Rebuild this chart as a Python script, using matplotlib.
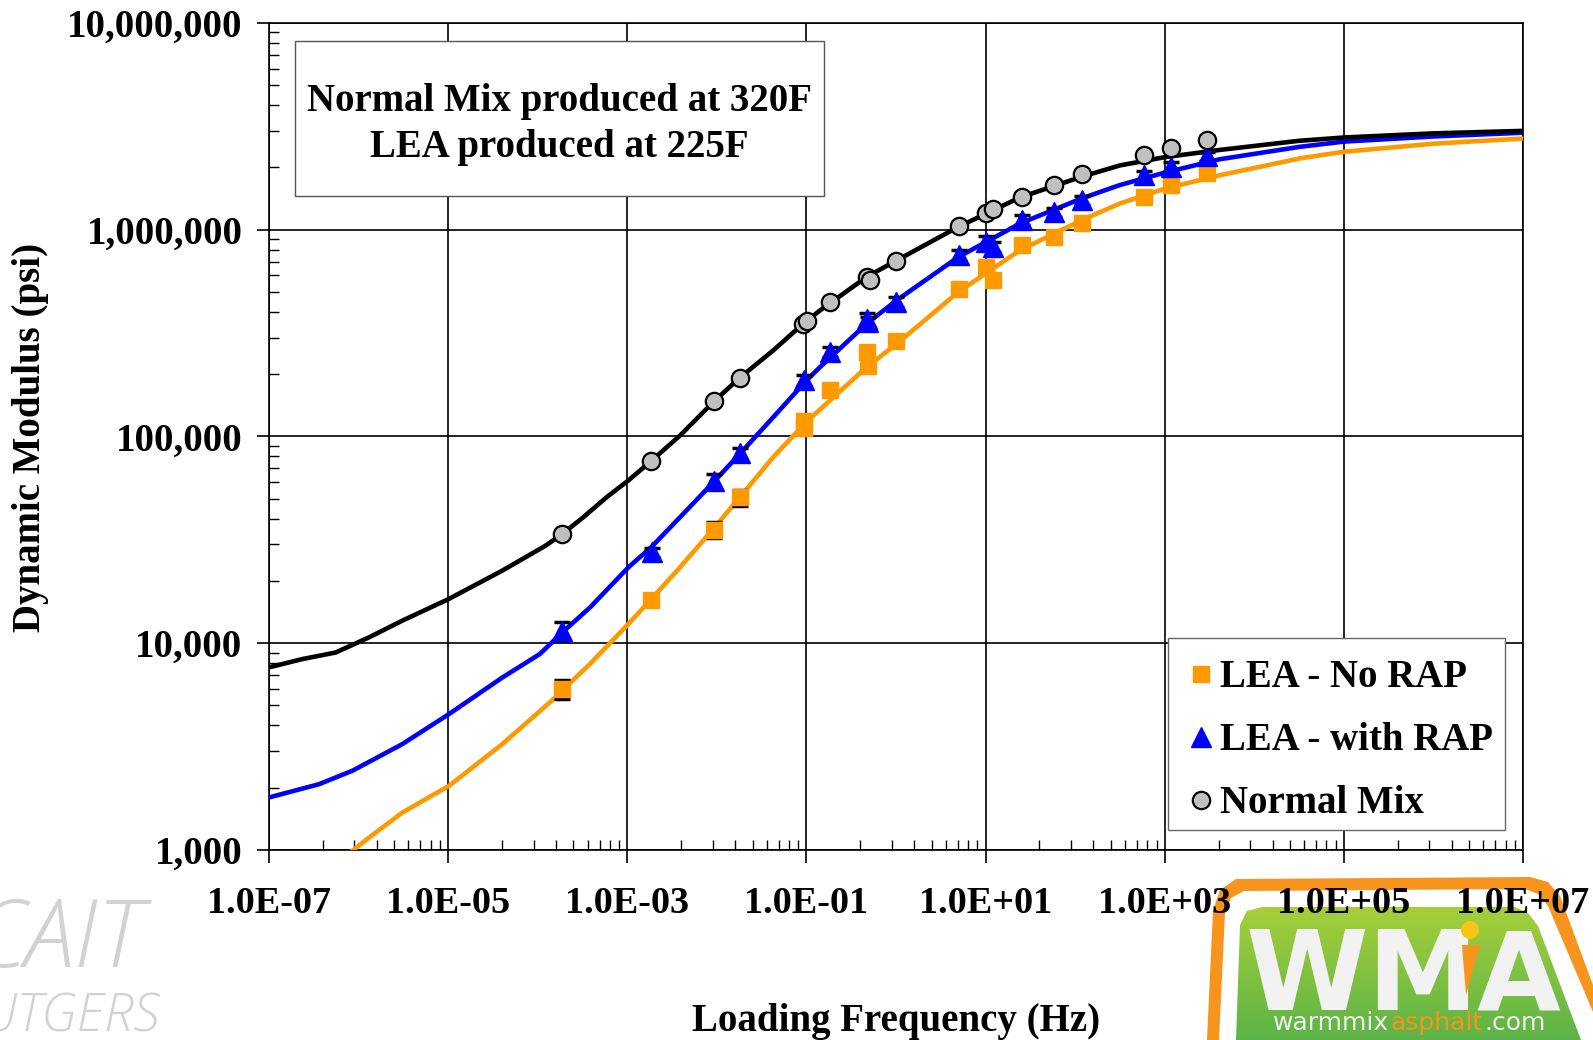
import matplotlib
matplotlib.use("Agg")
import numpy as np
import matplotlib.pyplot as plt
from matplotlib.patches import Rectangle, Polygon, Ellipse
from matplotlib.colors import LinearSegmentedColormap
from matplotlib.ticker import FixedLocator, FuncFormatter, LogLocator, NullFormatter

# ---------------- measured points (Hz, psi) ----------------
freq_norap = [1.85e-4, 1.83e-3, 9.2e-3, 0.0183, 0.095, 0.095, 0.183, 0.47, 0.49, 1.01,
              5.09, 10.1, 12.0, 25.3, 58.5, 118, 592, 1175, 2946]
mod_norap = [6000, 16100, 35400, 50800, 119000, 110000, 168000, 256000, 220000, 289000,
             518000, 659000, 569000, 840000, 920000, 1077000, 1440000, 1640000, 1880000]
err_norap = [650, 900, 3000, 4500, 6000, 6000, 8000, 15000, 12000, 14000,
             25000, 35000, 30000, 40000, 45000, 50000, 70000, 80000, 90000]

freq_rap = [1.85e-4, 1.87e-3, 9.2e-3, 0.0181, 0.095, 0.183, 0.47, 0.49, 1.01,
            5.09, 10.1, 12.0, 25.3, 58.5, 118, 592, 1175, 2946]
mod_rap = [11500, 27500, 61000, 83000, 187000, 256000, 371000, 357000, 447000,
           752000, 871000, 824000, 1116000, 1216000, 1387000, 1830000, 2010000, 2260000]
err_rap = [1200, 1500, 5000, 5000, 12000, 15000, 25000, 20000, 25000,
           45000, 55000, 45000, 60000, 60000, 70000, 90000, 100000, 110000]

freq_normal = [1.85e-4, 1.84e-3, 9.2e-3, 0.0181, 0.092, 0.102, 0.183, 0.47, 0.51, 1.0,
               5.09, 10.1, 12.0, 25.3, 58.5, 118, 592, 1175, 2946]
mod_normal = [33800, 76400, 148000, 191000, 351000, 361000, 444000, 590000, 573000, 703000,
              1040000, 1200000, 1250000, 1430000, 1650000, 1850000, 2290000, 2470000, 2700000]

# ---------------- master curves ----------------
curve_norap_f = [6.05e-7, 1.31e-6, 3.08e-6, 1.02e-5, 4.03e-5, 1.58e-4, 1.86e-4, 3.84e-4,
                 1.03e-3, 1.79e-3, 3.88e-3, 9.14e-3, 0.0181, 0.0427, 0.1, 0.142, 0.471,
                 1.02, 4.97, 24.2, 118, 317, 1009, 4150, 3.24e4, 1e5, 1e6, 1e7]
curve_norap_m = [885, 1148, 1517, 2042, 3251, 5470, 5888, 7943,
                 12390, 16070, 23280, 35730, 50820, 79430, 117500, 134900, 216300,
                 280500, 498900, 794300, 1109000, 1337000, 1578000, 1832000, 2208000,
                 2377000, 2600000, 2754000]

curve_rap_f = [1e-7, 3.61e-7, 8.51e-7, 3.08e-6, 1.02e-5, 4.03e-5, 1.06e-4, 1.86e-4,
               3.84e-4, 1.03e-3, 1.86e-3, 3.88e-3, 9.14e-3, 0.0181, 0.0427, 0.1, 0.142,
               0.471, 1.02, 4.97, 24.2, 118, 316, 1000, 4150, 3.24e4, 1e5, 1e6, 1e7]
curve_rap_m = [1795, 2080, 2415, 3251, 4539, 6823, 8872, 11220,
               14890, 23280, 29170, 40640, 59980, 82410, 123900, 186200, 216300,
               350800, 455000, 736200, 1069000, 1413000, 1641000, 1884000, 2188000,
               2512000, 2661000, 2818000, 2938000]

curve_normal_f = [1e-7, 2.35e-7, 5.56e-7, 1.31e-6, 3.08e-6, 1.02e-5, 4.03e-5, 1.23e-4,
                  1.88e-4, 3.23e-4, 5.89e-4, 1.03e-3, 1.87e-3, 3.88e-3, 9.14e-3, 0.0181,
                  0.0427, 0.0923, 0.142, 0.471, 1.02, 4.97, 24.2, 118, 317, 1009, 4150,
                  3.16e4, 1e5, 1e6, 1e7]
curve_normal_m = [7640, 8375, 9016, 10670, 12850, 16370, 22440, 29650,
                  33730, 40640, 50820, 61240, 76380, 100900, 146600, 192300,
                  260600, 350800, 406400, 590200, 709600, 1030000, 1429000, 1799000,
                  2042000, 2239000, 2427000, 2685000, 2786000, 2917000, 2999000]

x_major = [1e-7, 1e-5, 1e-3, 1e-1, 1e1, 1e3, 1e5, 1e7]
y_major = [1e3, 1e4, 1e5, 1e6, 1e7]

labels = ["LEA - No RAP", "LEA - with RAP", "Normal Mix"]
c_orange = "#ff9900"
c_blue = "#0000ff"
c_gray = "#c0c0c0"

plt.rcParams["font.family"] = ["Liberation Serif", "DejaVu Serif"]
plt.rcParams["font.weight"] = "bold"

W, H = 1593, 1040
FS = 28
fig = plt.figure(figsize=(W / 100, H / 100), dpi=100)


def fx(px):
    return px / W


def fy(py):
    return 1 - py / H


# ---------------- background decorations (watermark + logo), pixel coords ----------------
bg = fig.add_axes([0, 0, 1, 1], zorder=-1)
bg.axis("off")

bg.text(143, 967, "CAIT", ha="right", va="baseline", fontsize=68, family="Open Sans",
        style="italic", weight="light", color="#d2d2d2")
bg.text(160, 1032, "RUTGERS", ha="right", va="baseline", fontsize=38, family="Open Sans",
        style="italic", weight="light", color="#d2d2d2")

outer = [(1207, 1040), (1213, 910), (1220, 890), (1236, 879), (1530, 877), (1548, 882),
         (1560, 896), (1593, 985), (1593, 1040)]
white = [(1219, 1040), (1225, 913), (1231, 898), (1244, 891), (1525, 889), (1538, 894),
         (1548, 906), (1593, 1012), (1593, 1040)]
green = [(1236, 1040), (1240, 925), (1247, 911), (1262, 907), (1515, 907), (1529, 914),
         (1538, 926), (1581, 1040)]
bg.add_patch(Polygon(outer, closed=True, facecolor="#f7941d", edgecolor="none"))
bg.add_patch(Polygon(white, closed=True, facecolor="white", edgecolor="none"))
green_patch = Polygon(green, closed=True, facecolor="none", edgecolor="none")
bg.add_patch(green_patch)
grad = np.linspace(0, 1, 100).reshape(-1, 1)
cmap = LinearSegmentedColormap.from_list("wma", ["#a8cf3a", "#5cb447"])
im = bg.imshow(grad, cmap=cmap, extent=(1230, 1593, 1040, 905), aspect="auto", zorder=1)
im.set_clip_path(green_patch)
bg.set_xlim(0, W)
bg.set_ylim(H, 0)

bg.text(1246, 1010, "WM", ha="left", va="baseline", fontsize=80, family="DejaVu Sans",
        weight="bold", color="#f2f2f2", zorder=3)
bg.text(1476, 1010, "A", ha="left", va="baseline", fontsize=78, family="DejaVu Sans",
        weight="bold", color="#f2f2f2", zorder=3)
bg.add_patch(Ellipse((1470, 930), 18, 18, facecolor="#f8c617", edgecolor="none", zorder=3))
bg.add_patch(Polygon([(1462, 945), (1480, 945), (1466, 995)], closed=True,
                     facecolor="#f7941d", edgecolor="none", zorder=3))
bg.text(1273, 1030, "warmmix", ha="left", va="baseline", fontsize=18, family="DejaVu Sans",
        weight="normal", color="#eeeeee", zorder=3)
bg.text(1391, 1030, "asphalt", ha="left", va="baseline", fontsize=18, family="DejaVu Sans",
        weight="normal", color="#f7941d", zorder=3)
bg.text(1484, 1030, ".com", ha="left", va="baseline", fontsize=18, family="DejaVu Sans",
        weight="normal", color="#eeeeee", zorder=3)

# ---------------- main chart ----------------
ax = fig.add_axes([fx(269), fy(850), fx(1523) - fx(269), fy(22.7) - fy(850)])
ax.set_xscale("log")
ax.set_yscale("log")
ax.set_xlim(1e-7, 1e7)
ax.set_ylim(1e3, 1e7)

# master curves
for f, m, c in [(curve_norap_f, curve_norap_m, c_orange),
                (curve_rap_f, curve_rap_m, c_blue),
                (curve_normal_f, curve_normal_m, "black")]:
    ax.plot(f, m, color=c, lw=3.3, zorder=3, solid_joinstyle="round")

# error bars
ax.errorbar(freq_norap, mod_norap, yerr=err_norap, fmt="none", ecolor="black",
            elinewidth=1.2, capsize=6, capthick=2.5, zorder=4)
ax.errorbar(freq_rap, mod_rap, yerr=err_rap, fmt="none", ecolor="black",
            elinewidth=1.2, capsize=6, capthick=2.5, zorder=4)

# points
ax.plot(freq_norap, mod_norap, ls="none", marker="s", ms=12, color=c_orange,
        zorder=5, label=labels[0])
ax.plot(freq_rap, mod_rap, ls="none", marker="^", ms=14, color=c_blue,
        zorder=5, label=labels[1])
ax.plot(freq_normal, mod_normal, ls="none", marker="o", ms=12.5, mfc=c_gray,
        mec="black", mew=1.6, zorder=5, label=labels[2])

# axes / ticks
ax.xaxis.set_major_locator(FixedLocator(x_major))
ax.xaxis.set_minor_locator(FixedLocator([m * k ** 2 for m in x_major[:-1] for k in range(2, 10)]))
ax.xaxis.set_major_formatter(FuncFormatter(lambda v, p: f"{v:.1E}"))
ax.xaxis.set_minor_formatter(NullFormatter())
ax.yaxis.set_major_locator(FixedLocator(y_major))
ax.yaxis.set_minor_locator(LogLocator(base=10, subs=range(2, 10)))
ax.yaxis.set_major_formatter(FuncFormatter(lambda v, p: f"{v:,.0f}"))
ax.yaxis.set_minor_formatter(NullFormatter())

ax.tick_params(which="major", direction="out", length=9, width=1.2)
ax.tick_params(axis="x", which="major", pad=17, labelsize=27.5)
ax.tick_params(axis="y", which="major", pad=10, labelsize=FS)
ax.tick_params(which="minor", direction="in", length=7, width=1)
ax.grid(True, which="major", color="black", lw=1.2)
for s in ax.spines.values():
    s.set_linewidth(1.2)

# annotation box
ax.add_patch(Rectangle((0.0207, 0.790), 0.4219, 0.188, transform=ax.transAxes,
                       facecolor="white", edgecolor="#555555", lw=1, zorder=6))
ax.text(0.2317, 0.8933, "Normal Mix produced at 320F", transform=ax.transAxes,
        ha="center", va="baseline", fontsize=FS, zorder=7)
ax.text(0.2317, 0.8376, "LEA produced at 225F", transform=ax.transAxes,
        ha="center", va="baseline", fontsize=FS, zorder=7)

# legend: frame drawn separately so its padding can follow the reference
ax.add_patch(Rectangle((0.7169, 0.0242), 0.2687, 0.2321, transform=ax.transAxes,
                       facecolor="white", edgecolor="#666666", lw=1, zorder=7))
leg = ax.legend(loc="upper left", bbox_to_anchor=(0.717, 0.256), borderaxespad=0,
                frameon=False, fontsize=FS, handlelength=0.6, handletextpad=0.19,
                labelspacing=0.67, borderpad=0.54)
leg.set_zorder(8)

# axis titles
fig.text(fx(30.5), fy(437), "Dynamic Modulus (psi)", rotation=90, ha="center",
         va="center", fontsize=FS)
fig.text(fx(896), fy(1031), "Loading Frequency (Hz)", ha="center", va="baseline",
         fontsize=FS)

fig.savefig("out.png", dpi=100)
